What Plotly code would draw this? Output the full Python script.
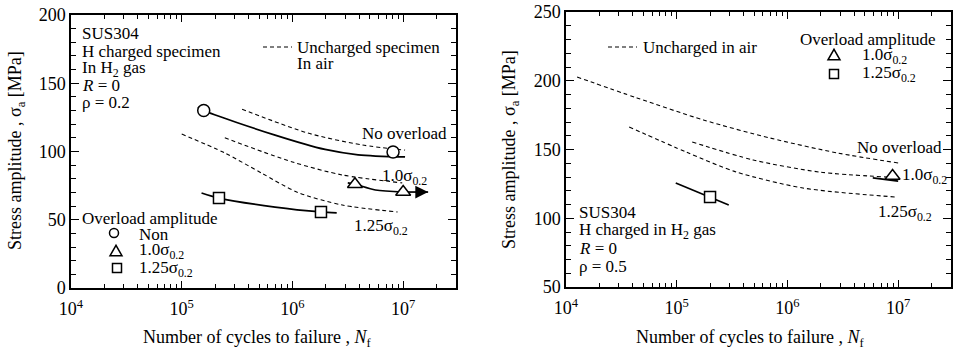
import plotly.graph_objects as go
import numpy as np

W, H = 953, 351
FONT = "Liberation Serif, Times New Roman, serif"

def px(x):
    return x / W

def py(y):
    return 1 - y / H

# ---------------- Left panel (rho = 0.2) ----------------
L_non_x = [1.58e5, 8.1e6]
L_non_y = [130, 99.6]
L_non_fit_x = [1.40e5, 1.58e5, 6.97e5, 1.97e6, 3.92e6, 1.04e7]
L_non_fit_y = [132.6, 130, 112, 101.5, 97.6, 96]

L_air0_x = [3.51e5, 1.38e6, 4.26e6, 1.04e7]
L_air0_y = [131, 113.5, 104.8, 101]
L_air10_x = [2.45e5, 1.0e6, 2.82e6, 9.8e6]
L_air10_y = [110, 92.3, 82.8, 77]
L_air125_x = [1.0e5, 2.45e5, 5.31e5, 1.12e6, 2.82e6, 8.9e6]
L_air125_y = [112.8, 98.9, 84, 70, 60.8, 55.7]

L_tri_x = [3.67e6, 1.0e7]
L_tri_y = [76, 70.3]
L_tri_fit_x = [3.16e6, 3.67e6, 5.62e6, 1.0e7]
L_tri_fit_y = [77, 76, 71.8, 70.3]
L_arrow_x = [1.0e7, 1.68e7]
L_arrow_y = [70.3, 70.3]

L_sq_x = [2.17e5, 1.81e6]
L_sq_y = [65.9, 55.7]
L_sq_fit_x = [1.51e5, 2.17e5, 6.97e5, 1.81e6, 2.51e6]
L_sq_fit_y = [69.6, 65.9, 59.3, 55.7, 55]

# ---------------- Right panel (rho = 0.5) ----------------
R_air0_x = [1.26e4, 4.37e4, 1.74e5, 6.92e5, 2.82e6, 1.0e7]
R_air0_y = [202.7, 187.5, 171.5, 158.4, 147.5, 140.2]
R_air10_x = [1.38e5, 4.9e5, 1.95e6, 7.9e6]
R_air10_y = [155.5, 142.4, 133.6, 130]
R_air125_x = [3.72e4, 1.23e5, 3.47e5, 1.38e6, 9.3e6]
R_air125_y = [166.4, 148, 133.6, 122, 115.5]

R_tri_x = [8.9e6]
R_tri_y = [130.7]
R_tri_fit_x = [5.9e6, 1.0e7]
R_tri_fit_y = [129.3, 127]

R_sq_x = [2.0e5]
R_sq_y = [115.5]
R_sq_fit_x = [9.8e4, 2.95e5]
R_sq_fit_y = [125.6, 109.6]

x_major = [1e4, 1e5, 1e6, 1e7]
x_major_text = ["10<sup>4</sup>", "10<sup>5</sup>", "10<sup>6</sup>", "10<sup>7</sup>"]
x_minor = [m * d for d in [1e4, 1e5, 1e6, 1e7] for m in range(2, 10) if m * d <= 3e7]

fig = go.Figure()

DASH = dict(color="black", width=1.1, dash="4px,3px")
SOLID = dict(color="black", width=1.7)

def line(x, y, style, xa="x", ya="y", shape="spline"):
    fig.add_trace(go.Scatter(x=x, y=y, mode="lines", line=dict(shape=shape, smoothing=0.8, **style),
                             xaxis=xa, yaxis=ya, showlegend=False, hoverinfo="skip"))

def marks(x, y, symbol, size, xa="x", ya="y"):
    fig.add_trace(go.Scatter(x=x, y=y, mode="markers",
                             marker=dict(symbol=symbol, size=size, color="white",
                                         line=dict(color="black", width=1.5)),
                             xaxis=xa, yaxis=ya, showlegend=False, hoverinfo="skip"))

# left
line(L_air0_x, L_air0_y, DASH)
line(L_air10_x, L_air10_y, DASH)
line(L_air125_x, L_air125_y, DASH)
line(L_non_fit_x, L_non_fit_y, SOLID)
line(L_tri_fit_x, L_tri_fit_y, SOLID)
line(L_arrow_x, L_arrow_y, SOLID, shape="linear")
line(L_sq_fit_x, L_sq_fit_y, SOLID)
marks(L_non_x, L_non_y, "circle", 12)
marks(L_tri_x, L_tri_y, "triangle-up", 13)
marks(L_sq_x, L_sq_y, "square", 11)

# right
line(R_air0_x, R_air0_y, DASH, "x2", "y2")
line(R_air10_x, R_air10_y, DASH, "x2", "y2")
line(R_air125_x, R_air125_y, DASH, "x2", "y2")
line(R_tri_fit_x, R_tri_fit_y, SOLID, "x2", "y2", shape="linear")
line(R_sq_fit_x, R_sq_fit_y, SOLID, "x2", "y2", shape="linear")
marks(R_tri_x, R_tri_y, "triangle-up", 13, "x2", "y2")
marks(R_sq_x, R_sq_y, "square", 11, "x2", "y2")

annotations = []
# arrow head on left panel
annotations.append(dict(x=np.log10(L_arrow_x[1]), y=L_arrow_y[1], ax=np.log10(L_arrow_x[0]) + 0.12,
                        ay=L_arrow_y[0], xref="x", yref="y", axref="x", ayref="y", text="",
                        showarrow=True, arrowhead=2, arrowsize=1.6, arrowwidth=1.6, arrowcolor="black"))

def txt(x, y, s, anchor="left", size=17, angle=0, xanc=None):
    annotations.append(dict(x=px(x), y=py(y), xref="paper", yref="paper", text=s, showarrow=False,
                            xanchor=xanc or anchor, yanchor="middle", textangle=angle,
                            font=dict(family=FONT, size=size, color="black")))

s02 = "σ<sub>0.2</sub>"
# left panel texts
for yy, s in zip([34, 51, 69, 86, 103],
                 ["SUS304", "H charged specimen", "In H<sub>2</sub> gas", "<i>R</i> = 0", "ρ = 0.2"]):
    txt(80, yy, s)
txt(295, 47, "Uncharged specimen")
txt(295, 64, "In air")
txt(449, 133, "No overload", xanc="right")
txt(429, 177, "1.0" + s02, xanc="right")
txt(352, 227, "1.25" + s02)
txt(80, 218, "Overload amplitude")
txt(137, 234, "Non")
txt(137, 251, "1.0" + s02)
txt(137, 269, "1.25" + s02)
# right panel texts
txt(641, 47, "Uncharged in air")
txt(798, 39, "Overload amplitude")
txt(860, 56, "1.0" + s02)
txt(860, 74, "1.25" + s02)
txt(944, 147, "No overload", xanc="right")
txt(900, 176, "1.0" + s02)
txt(876, 213, "1.25" + s02)
for yy, s in zip([213, 231, 248, 266],
                 ["SUS304", "H charged in H<sub>2</sub> gas", "<i>R</i> = 0", "ρ = 0.5"]):
    txt(577, yy, s)

# axis titles
xt = "Number of cycles to failure , <i>N</i><sub>f</sub>"
yt = "Stress amplitude , σ<sub>a</sub> [MPa]"
txt(257, 338, xt, size=18, xanc="center")
txt(750, 338, xt, size=18, xanc="center")
txt(16, 151, yt, size=18, angle=-90, xanc="center")
txt(510, 150, yt, size=18, angle=-90, xanc="center")

shapes = []
# dashed legend samples
for x0, x1, yy in [(263, 292, 47), (608, 637, 47)]:
    shapes.append(dict(type="line", xref="paper", yref="paper", x0=px(x0), x1=px(x1), y0=py(yy), y1=py(yy),
                       line=dict(color="black", width=1.1, dash="4px,3px")))

def circ(cx, cy, r):
    shapes.append(dict(type="circle", xref="paper", yref="paper", x0=px(cx - r), x1=px(cx + r),
                       y0=py(cy + r), y1=py(cy - r), line=dict(color="black", width=1.5)))

def sq(cx, cy, r):
    shapes.append(dict(type="rect", xref="paper", yref="paper", x0=px(cx - r), x1=px(cx + r),
                       y0=py(cy + r), y1=py(cy - r), line=dict(color="black", width=1.5)))

def tri(cx, cy, r):
    p = "M %f,%f L %f,%f L %f,%f Z" % (px(cx - r), py(cy + r * 0.8), px(cx + r), py(cy + r * 0.8),
                                      px(cx), py(cy - r * 0.95))
    shapes.append(dict(type="path", xref="paper", yref="paper", path=p, line=dict(color="black", width=1.5)))

circ(114, 233, 4.5)
tri(116, 251, 6)
sq(117, 268, 4.5)
tri(834, 55, 6)
sq(834, 74, 4.5)

def xaxis(dom):
    return dict(type="log", domain=dom, range=[4, np.log10(3e7)], tickmode="array", tickvals=x_major,
                ticktext=x_major_text, ticks="inside", ticklen=7, tickwidth=1.2, tickcolor="black",
                showline=True, linecolor="black", linewidth=1.5, mirror="ticks", showgrid=False,
                zeroline=False, automargin=False, ticklabelstandoff=4,
                tickfont=dict(family=FONT, size=18, color="black"),
                minor=dict(tickmode="array", tickvals=x_minor, ticks="inside", ticklen=4,
                           tickwidth=1, tickcolor="black", showgrid=False))

def yaxis(dom, rng, anchor):
    return dict(domain=dom, range=rng, dtick=50, ticks="inside", ticklen=8, tickwidth=1.2, tickcolor="black",
                showline=True, linecolor="black", linewidth=1.5, mirror="ticks", showgrid=False,
                zeroline=False, automargin=False, anchor=anchor, tickfont=dict(family=FONT, size=18, color="black"),
                minor=dict(dtick=10, ticks="inside", ticklen=5, tickwidth=1, tickcolor="black", showgrid=False))

fig.update_layout(
    width=W, height=H, margin=dict(l=0, r=0, t=0, b=0, pad=0), autosize=False,
    paper_bgcolor="white", plot_bgcolor="white",
    xaxis=dict(**xaxis([71 / W, 456 / W]), anchor="y"),
    yaxis=yaxis([1 - 288 / H, 1 - 15 / H], [0, 200], "x"),
    xaxis2=dict(**xaxis([566 / W, 951 / W]), anchor="y2"),
    yaxis2=yaxis([1 - 287 / H, 1 - 12 / H], [50, 250], "x2"),
    annotations=annotations, shapes=shapes, showlegend=False,
    font=dict(family=FONT, color="black"),
)

fig.write_html("out.html", config={"displayModeBar": False},
               post_script="document.body.style.margin='0';document.body.style.overflow='hidden';")
